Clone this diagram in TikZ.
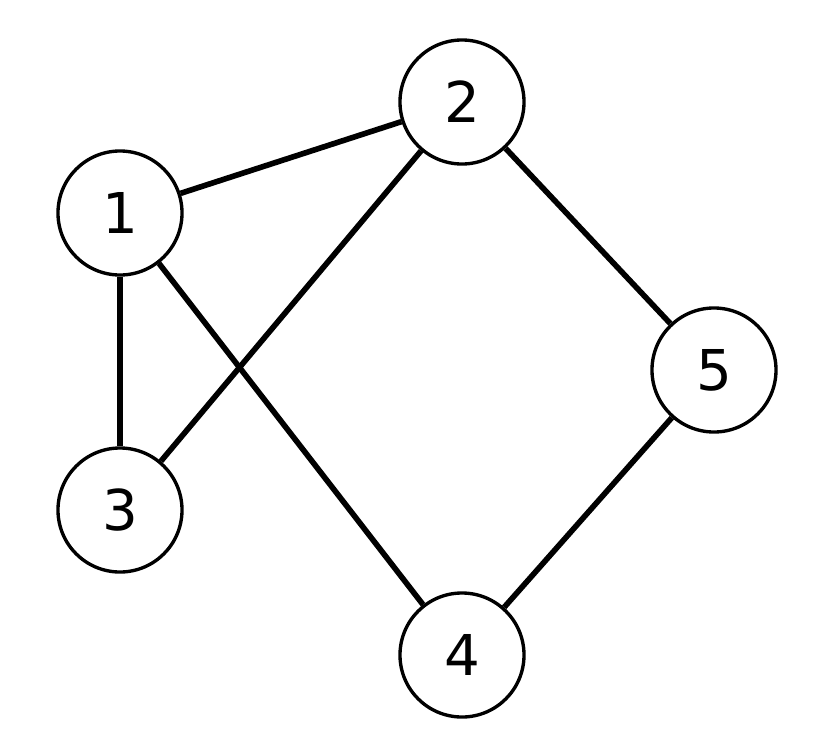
\documentclass[tikz,border=0pt]{standalone}
\usepackage{fontspec}
\setmainfont{DejaVu Sans}
\usepackage{tikz}
\usetikzlibrary{positioning}

\begin{document}
\begin{tikzpicture}[
    x=0.025cm, y=-0.025cm,
    vertex/.style={draw, circle, minimum size=3.1cm, inner sep=0pt, line width=2.4pt, font=\fontsize{40}{48}\selectfont},
    link/.style={line width=4pt},
]
\useasboundingbox (0,0) rectangle (837,739);

% === VERTICES ===
\node[vertex] (v1) at (120,213) {1};
\node[vertex] (v2) at (462,102) {2};
\node[vertex] (v3) at (120,510) {3};
\node[vertex] (v4) at (462,655) {4};
\node[vertex] (v5) at (714,370) {5};

% === EDGES ===
\draw[link] (v1) -- (v2);
\draw[link] (v1) -- (v3);
\draw[link] (v1) -- (v4);
\draw[link] (v2) -- (v3);
\draw[link] (v2) -- (v5);
\draw[link] (v5) -- (v4);

\end{tikzpicture}
\end{document}
